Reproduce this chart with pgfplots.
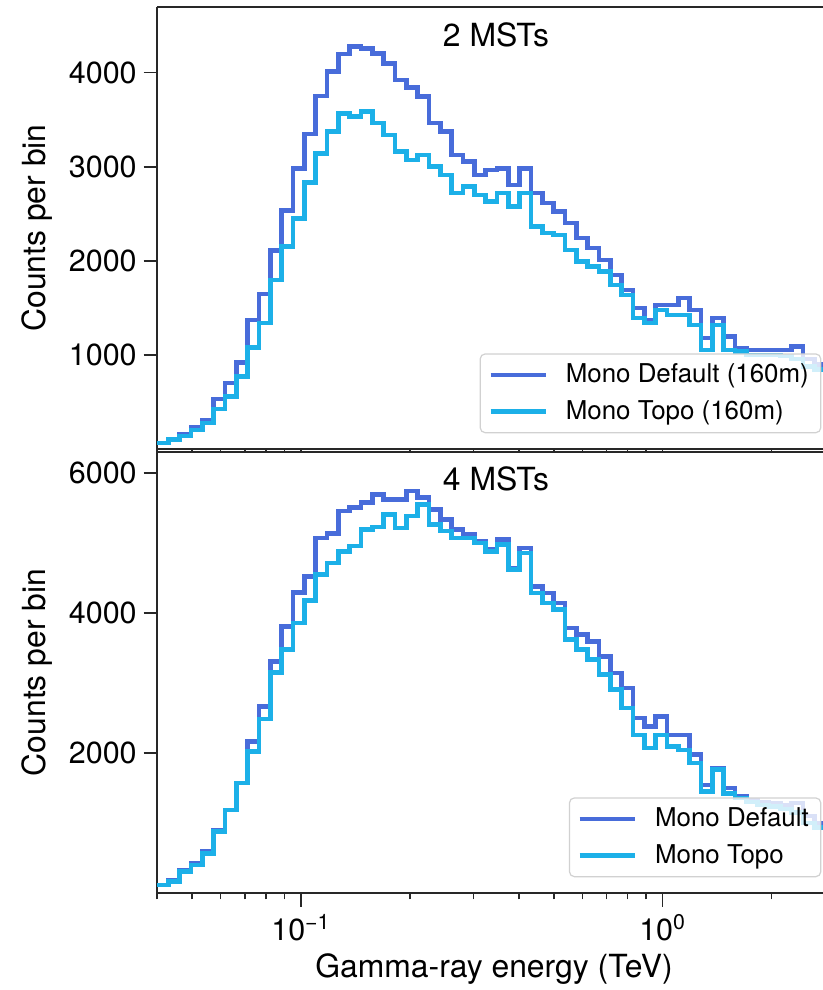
\documentclass[border=0pt]{standalone}
\usepackage{fontspec}
\setmainfont{TeX Gyre Heros}
\usepackage{pgfplots}
\usepackage{pgfplotstable}
\pgfplotsset{compat=1.18}
\definecolor{cdef}{RGB}{72,108,218}
\definecolor{ctopo}{RGB}{28,176,232}
\definecolor{spine}{RGB}{40,40,40}
\newcommand{\tickfont}{\fontsize{15.3}{18}\selectfont}
\newcommand{\labfont}{\fontsize{16}{19}\selectfont}
\newcommand{\legfont}{\fontsize{13}{15.5}\selectfont}

\pgfplotstableread{
x d2 t2 d4 t4
0.040000 66 66 119 119
0.042992 108 101 180 166
0.046209 161 143 323 309
0.049666 232 207 428 404
0.053381 313 278 595 571
0.057374 533 427 895 881
0.061666 703 561 1190 1190
0.066279 922 774 1571 1571
0.071238 1375 1079 2166 2023
0.076567 1651 1340 2666 2486
0.082295 2111 1799 3309 3151
0.088451 2535 2153 3809 3476
0.095068 2985 2454 4295 3857
0.102180 3349 2833 4523 4180
0.109824 3753 3144 5071 4547
0.118040 4011 3374 5133 4714
0.126871 4199 3569 5452 4880
0.136362 4276 3533 5500 4952
0.146563 4259 3586 5571 5190
0.157527 4206 3463 5690 5228
0.169312 4100 3339 5619 5404
0.181978 3923 3161 5619 5214
0.195592 3845 3073 5738 5380
0.210224 3745 3126 5643 5547
0.225951 3463 3002 5476 5261
0.242854 3374 2914 5333 5166
0.261022 3126 2720 5190 5071
0.280549 3055 2790 5119 5071
0.301537 2914 2700 5024 5000
0.324095 2967 2631 4904 4880
0.348340 2985 2720 5047 4976
0.374400 2808 2578 4643 4619
0.402409 2985 2720 4928 4857
0.432513 2720 2366 4380 4286
0.464869 2614 2295 4286 4143
0.499646 2525 2277 4143 4047
0.537024 2401 2118 3786 3619
0.577199 2242 1994 3690 3476
0.620379 2136 1941 3594 3333
0.666790 2012 1888 3380 3119
0.716672 1852 1746 3143 2905
0.770286 1693 1640 2929 2643
0.827911 1499 1393 2500 2261
0.889847 1375 1340 2380 2071
0.956416 1534 1481 2523 2261
1.027965 1534 1428 2261 2095
1.104868 1605 1428 2261 2047
1.187523 1481 1322 1976 1857
1.276361 1180 1056 1547 1452
1.371846 1393 1322 1786 1762
1.474474 1198 1056 1500 1420
1.584779 1074 1038 1380 1357
1.703336 1056 1000 1330 1300
1.830760 1056 1000 1300 1260
1.967719 1056 1000 1290 1240
2.114925 1056 990 1260 1200
2.273143 1091 960 1290 1150
2.443197 960 880 1100 1000
2.625972 900 850 1000 940
2.822421 900 850 1000 940
}\data

\begin{document}
\begin{tikzpicture}
\begin{axis}[name=top, at={(0,0)}, anchor=south west,
    scale only axis, width=333bp, height=221.3bp,
    xmode=log, xmin=0.04, xmax=2.775, ymin=0, ymax=4700,
    axis x line*=bottom, axis y line*=left,
    axis line style={spine, line width=0.8bp},
    every tick/.style={spine, line width=0.8bp},
    tick align=outside,
    major tick length=6.7bp, minor tick length=3bp,
    xtick={0.1,1},
    minor xtick={0.04,0.05,0.06,0.07,0.08,0.09,0.2,0.3,0.4,0.5,0.6,0.7,0.8,0.9,2},
    xticklabels={},
    ytick={1000,2000,3000,4000},
    scaled y ticks=false,
    yticklabel={\pgfmathprintnumber[assume math mode=true,1000 sep={}]{\tick}},
    yticklabel style={font=\tickfont},
    clip mode=individual,
    ylabel={Counts per bin},
    every axis y label/.style={at={(rel axis cs:-0.15616,0.5)}, rotate=90, anchor=south, inner sep=0pt, font=\labfont},
    legend cell align=left,
    legend image code/.code={\draw[#1, line width=2.3bp] (0bp,0bp) -- (27.5bp,0bp);},
    legend style={at={(1,0)}, anchor=south east, xshift=-0.8bp, yshift=8bp,
      font=\legfont, draw=black!18, line width=0.6bp, rounded corners=2.5bp,
      fill=white, fill opacity=0.8, draw opacity=1, text opacity=1,
      row sep=3.5bp, inner xsep=4bp, inner ysep=3bp,
      /tikz/every odd column/.append style={column sep=7bp}}]
\addplot[cdef, line width=2.3bp, const plot] table[x=x, y=d2] {\data};
\addlegendentry{Mono Default (160m)}
\addplot[ctopo, line width=2.3bp, const plot] table[x=x, y=t2] {\data};
\addlegendentry{Mono Topo (160m)}
\draw[spine, line width=0.8bp] (rel axis cs:0,1) -- (rel axis cs:1,1);
\node[anchor=base, font=\labfont, yshift=-20bp] at (rel axis cs:0.509,1) {2 MSTs};
\end{axis}
\begin{axis}[name=bot, at={(0,-1.2bp)}, anchor=north west,
    scale only axis, width=333bp, height=220.8bp,
    axis background/.style={fill=white},
    xmode=log, xmin=0.04, xmax=2.775, ymin=0, ymax=6300,
    axis x line*=bottom, axis y line*=left,
    axis line style={spine, line width=0.8bp},
    every tick/.style={spine, line width=0.8bp},
    tick align=outside,
    major tick length=6.7bp, minor tick length=3bp,
    xtick={0.1,1},
    minor xtick={0.04,0.05,0.06,0.07,0.08,0.09,0.2,0.3,0.4,0.5,0.6,0.7,0.8,0.9,2},
    xticklabels={10\textsuperscript{−1},10\textsuperscript{0}},
    xticklabel style={font=\tickfont, anchor=base, yshift=-16.85bp},
    ytick={2000,4000,6000},
    scaled y ticks=false,
    yticklabel={\pgfmathprintnumber[assume math mode=true,1000 sep={}]{\tick}},
    yticklabel style={font=\tickfont},
    clip mode=individual,
    xlabel={Gamma-ray energy (TeV)},
    xlabel style={at={(rel axis cs:0.506,-0.19181)}, anchor=base, font=\labfont},
    ylabel={Counts per bin},
    every axis y label/.style={at={(rel axis cs:-0.15616,0.5)}, rotate=90, anchor=south, inner sep=0pt, font=\labfont},
    legend cell align=left,
    legend image code/.code={\draw[#1, line width=2.3bp] (0bp,0bp) -- (27.5bp,0bp);},
    legend style={at={(1,0)}, anchor=south east, xshift=-0.8bp, yshift=8bp,
      font=\legfont, draw=black!18, line width=0.6bp, rounded corners=2.5bp,
      fill=white, fill opacity=0.8, draw opacity=1, text opacity=1,
      row sep=3.5bp, inner xsep=4bp, inner ysep=3bp,
      /tikz/every odd column/.append style={column sep=7bp}}]
\addplot[cdef, line width=2.3bp, const plot] table[x=x, y=d4] {\data};
\addlegendentry{Mono Default}
\addplot[ctopo, line width=2.3bp, const plot] table[x=x, y=t4] {\data};
\addlegendentry{Mono Topo}
\draw[spine, line width=0.8bp] (rel axis cs:0,1) -- (rel axis cs:1,1);
\node[anchor=base, font=\labfont, yshift=-19.2bp] at (rel axis cs:0.509,1) {4 MSTs};
\end{axis}
\pgfresetboundingbox
\path[use as bounding box] (-78.5bp,224.65bp) rectangle (333bp,-270.35bp);
\end{tikzpicture}
\end{document}
